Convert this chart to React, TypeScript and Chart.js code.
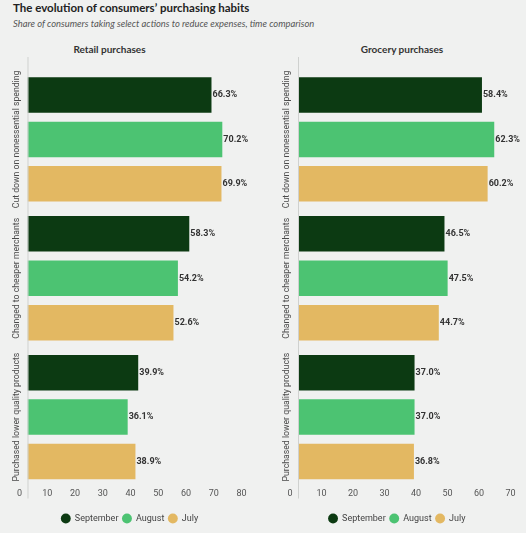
import { useEffect, useRef } from "react";
import { Chart, registerables } from "chart.js";

Chart.register(...registerables);

const categories = [
  "Cut down on nonessential spending",
  "Changed to cheaper merchants",
  "Purchased lower quality products"
];
const seriesNames = ["September", "August", "July"];
const seriesColors = ["#0c3a12", "#4cc372", "#e3b862"];

const retailSeptember = [66.3, 58.3, 39.9];
const retailAugust = [70.2, 54.2, 36.1];
const retailJuly = [69.9, 52.6, 38.9];

const grocerySeptember = [58.4, 46.5, 37.0];
const groceryAugust = [62.3, 47.5, 37.0];
const groceryJuly = [60.2, 44.7, 36.8];

const retailMax = 80;
const groceryMax = 70;

const chartFont = "Roboto, 'DejaVu Sans', sans-serif";

// value labels at bar ends + rotated category labels + axis line
const decorPlugin = {
  id: "decor",
  afterDatasetsDraw(chart: Chart) {
    const { ctx, chartArea } = chart;
    ctx.save();
    ctx.font = `bold 9px ${chartFont}`;
    ctx.fillStyle = "#333";
    ctx.textAlign = "left";
    ctx.textBaseline = "middle";
    chart.data.datasets.forEach((ds, di) => {
      const meta = chart.getDatasetMeta(di);
      meta.data.forEach((bar: any, i) => {
        const v = Number(ds.data[i]);
        ctx.fillText(`${v.toFixed(1)}%`, bar.x + 1, bar.y);
      });
    });

    ctx.strokeStyle = "#cfd1cf";
    ctx.lineWidth = 1;
    ctx.beginPath();
    ctx.moveTo(chartArea.left + 0.5, chartArea.top - 13);
    ctx.lineTo(chartArea.left + 0.5, chartArea.bottom + 12);
    ctx.stroke();

    const yScale = chart.scales.y;
    ctx.font = `8.7px ${chartFont}`;
    ctx.fillStyle = "#4a4a4a";
    ctx.textAlign = "center";
    categories.forEach((label, i) => {
      const y = yScale.getPixelForValue(i);
      ctx.save();
      ctx.translate(chartArea.left - 11, y);
      ctx.rotate(-Math.PI / 2);
      ctx.fillText(label, 0, 0);
      ctx.restore();
    });
    ctx.restore();
  }
};

type PanelProps = {
  left: number;
  values: number[][];
  max: number;
  padLeft: number;
  padRight: number;
  axisWidth: number;
};

function BarPanel({ left, values, max, padLeft, padRight, axisWidth }: PanelProps) {
  const canvasRef = useRef<HTMLCanvasElement | null>(null);

  useEffect(() => {
    const canvas = canvasRef.current;
    if (!canvas) return;

    const chart = new Chart(canvas, {
      type: "bar",
      data: {
        labels: categories,
        datasets: values.map((data, i) => ({
          label: seriesNames[i],
          data,
          backgroundColor: seriesColors[i],
          borderWidth: 0,
          barPercentage: 0.8,
          categoryPercentage: 0.96
        }))
      },
      options: {
        indexAxis: "y",
        animation: false,
        responsive: false,
        layout: { padding: { top: 70, bottom: 0, left: padLeft, right: padRight } },
        plugins: {
          legend: {
            position: "bottom",
            labels: {
              usePointStyle: true,
              pointStyle: "circle",
              boxHeight: 7,
              padding: 4,
              color: "#444",
              font: { family: chartFont, size: 9 }
            }
          },
          tooltip: { enabled: false }
        },
        scales: {
          x: {
            min: 0,
            max,
            ticks: {
              stepSize: 10,
              color: "#555",
              padding: 2,
              labelOffset: -8,
              font: { family: chartFont, size: 9 }
            },
            grid: { display: false, drawTicks: false },
            border: { display: false },
            afterFit: (scale: any) => {
              scale.height = 23.5;
            }
          },
          y: {
            ticks: { display: false },
            grid: { display: false, drawTicks: false },
            border: { display: false },
            afterFit: (scale: any) => {
              scale.width = axisWidth;
            }
          }
        }
      },
      plugins: [decorPlugin]
    });

    return () => chart.destroy();
  }, [values, max, padLeft, padRight, axisWidth]);

  return (
    <div style={{ position: "absolute", left, top: 0, width: 260, height: 533 }}>
      <canvas ref={canvasRef} width={260} height={533} style={{ width: 260, height: 533 }} />
    </div>
  );
}

const retailValues = [retailSeptember, retailAugust, retailJuly];
const groceryValues = [grocerySeptember, groceryAugust, groceryJuly];

export default function App() {
  const titleFont = "Lato, 'Open Sans', sans-serif";
  return (
    <div
      style={{
        position: "absolute",
        left: 0,
        top: 0,
        width: 526,
        height: 533,
        background: "#f0f1f0",
        overflow: "hidden",
        fontFamily: titleFont
      }}
    >
      <div style={{ position: "absolute", left: 13, top: 2, fontSize: 11.5, lineHeight: "12px", fontWeight: 700, color: "#222", whiteSpace: "nowrap" }}>
        The evolution of consumers’ purchasing habits
      </div>
      <div style={{ position: "absolute", left: 13, top: 18, fontSize: 9.4, lineHeight: "12px", fontStyle: "italic", color: "#555", whiteSpace: "nowrap" }}>
        Share of consumers taking select actions to reduce expenses, time comparison
      </div>
      <div style={{ position: "absolute", left: 49.5, width: 120, textAlign: "center", top: 42.8, fontSize: 10, lineHeight: "12px", fontWeight: 700, color: "#333" }}>
        Retail purchases
      </div>
      <div style={{ position: "absolute", left: 342, width: 120, textAlign: "center", top: 42.8, fontSize: 10, lineHeight: "12px", fontWeight: 700, color: "#333" }}>
        Grocery purchases
      </div>
      <BarPanel left={0} values={retailValues} max={retailMax} padLeft={10} padRight={10.5} axisWidth={17.5} />
      <BarPanel left={266} values={groceryValues} max={groceryMax} padLeft={9.5} padRight={7.5} axisWidth={22.5} />
    </div>
  );
}
